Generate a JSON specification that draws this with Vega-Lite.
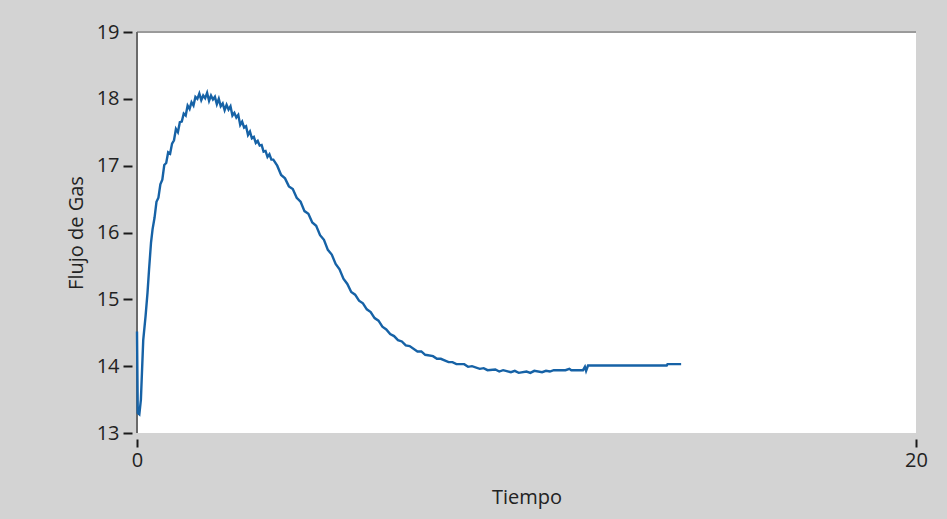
{
  "$schema": "https://vega.github.io/schema/vega-lite/v6.json",
  "width": 779,
  "height": 401,
  "autosize": "none",
  "padding": {"left": 137, "top": 32, "right": 31, "bottom": 86},
  "background": "#d3d3d3",
  "config": {
    "view": {"fill": "#ffffff", "stroke": null},
    "font": "Open Sans",
    "axis": {"labelFont": "Open Sans", "titleFont": "Open Sans", "labelColor": "#222222", "titleColor": "#222222", "tickColor": "#1a1a1a", "grid": false}
  },
  "data": {"values": [
    {"t": 0, "v": 14.52}, {"t": 0.02, "v": 13.3}, {"t": 0.06, "v": 13.28}, {"t": 0.1, "v": 13.5},
    {"t": 0.16, "v": 14.39}, {"t": 0.22, "v": 14.75}, {"t": 0.27, "v": 15.1}, {"t": 0.31, "v": 15.45},
    {"t": 0.36, "v": 15.85}, {"t": 0.4, "v": 16.05}, {"t": 0.45, "v": 16.22},
    {"t": 0.5, "v": 16.46}, {"t": 0.55, "v": 16.52}, {"t": 0.6, "v": 16.72}, {"t": 0.65, "v": 16.79},
    {"t": 0.7, "v": 17.01}, {"t": 0.75, "v": 17.04}, {"t": 0.8, "v": 17.2}, {"t": 0.85, "v": 17.18},
    {"t": 0.9, "v": 17.33}, {"t": 0.95, "v": 17.38}, {"t": 1.0, "v": 17.55}, {"t": 1.05, "v": 17.5},
    {"t": 1.1, "v": 17.65}, {"t": 1.15, "v": 17.66}, {"t": 1.2, "v": 17.78}, {"t": 1.25, "v": 17.75},
    {"t": 1.3, "v": 17.9}, {"t": 1.35, "v": 17.85}, {"t": 1.4, "v": 17.95}, {"t": 1.45, "v": 17.9},
    {"t": 1.5, "v": 18.03}, {"t": 1.55, "v": 18.0}, {"t": 1.6, "v": 18.08}, {"t": 1.65, "v": 17.98},
    {"t": 1.7, "v": 18.05}, {"t": 1.75, "v": 18.01}, {"t": 1.8, "v": 18.09}, {"t": 1.85, "v": 17.97},
    {"t": 1.9, "v": 18.05}, {"t": 1.95, "v": 17.99}, {"t": 2.0, "v": 18.03}, {"t": 2.05, "v": 17.92},
    {"t": 2.1, "v": 18.0}, {"t": 2.15, "v": 17.89}, {"t": 2.2, "v": 17.93}, {"t": 2.25, "v": 17.83},
    {"t": 2.3, "v": 17.91}, {"t": 2.35, "v": 17.84}, {"t": 2.4, "v": 17.89}, {"t": 2.45, "v": 17.75},
    {"t": 2.5, "v": 17.79}, {"t": 2.55, "v": 17.72}, {"t": 2.6, "v": 17.76}, {"t": 2.65, "v": 17.61},
    {"t": 2.7, "v": 17.66}, {"t": 2.75, "v": 17.57}, {"t": 2.8, "v": 17.59}, {"t": 2.85, "v": 17.46},
    {"t": 2.9, "v": 17.51}, {"t": 2.95, "v": 17.41}, {"t": 3.0, "v": 17.43}, {"t": 3.05, "v": 17.34},
    {"t": 3.1, "v": 17.37}, {"t": 3.15, "v": 17.3}, {"t": 3.2, "v": 17.31}, {"t": 3.25, "v": 17.21},
    {"t": 3.3, "v": 17.22}, {"t": 3.35, "v": 17.13}, {"t": 3.4, "v": 17.17}, {"t": 3.45, "v": 17.09},
    {"t": 3.5, "v": 17.09}, {"t": 3.6, "v": 17.0}, {"t": 3.7, "v": 16.86}, {"t": 3.8, "v": 16.81},
    {"t": 3.9, "v": 16.69}, {"t": 4.0, "v": 16.65}, {"t": 4.1, "v": 16.52}, {"t": 4.2, "v": 16.46},
    {"t": 4.3, "v": 16.32}, {"t": 4.4, "v": 16.28}, {"t": 4.5, "v": 16.15}, {"t": 4.6, "v": 16.1},
    {"t": 4.7, "v": 15.96}, {"t": 4.8, "v": 15.89}, {"t": 4.9, "v": 15.74}, {"t": 5.0, "v": 15.67},
    {"t": 5.1, "v": 15.53}, {"t": 5.2, "v": 15.45}, {"t": 5.3, "v": 15.31}, {"t": 5.4, "v": 15.23},
    {"t": 5.5, "v": 15.11}, {"t": 5.6, "v": 15.07}, {"t": 5.7, "v": 14.98}, {"t": 5.8, "v": 14.94},
    {"t": 5.9, "v": 14.85}, {"t": 6.0, "v": 14.81}, {"t": 6.1, "v": 14.72}, {"t": 6.2, "v": 14.68},
    {"t": 6.3, "v": 14.59}, {"t": 6.4, "v": 14.55}, {"t": 6.5, "v": 14.48}, {"t": 6.6, "v": 14.45},
    {"t": 6.7, "v": 14.39}, {"t": 6.8, "v": 14.37}, {"t": 6.9, "v": 14.31}, {"t": 7.0, "v": 14.3},
    {"t": 7.2, "v": 14.22}, {"t": 7.3, "v": 14.22}, {"t": 7.4, "v": 14.17}, {"t": 7.6, "v": 14.15},
    {"t": 7.7, "v": 14.11}, {"t": 7.8, "v": 14.11}, {"t": 8.0, "v": 14.06}, {"t": 8.1, "v": 14.06},
    {"t": 8.2, "v": 14.03}, {"t": 8.4, "v": 14.03}, {"t": 8.5, "v": 13.99}, {"t": 8.6, "v": 14.0},
    {"t": 8.8, "v": 13.96}, {"t": 8.9, "v": 13.97}, {"t": 9.0, "v": 13.94}, {"t": 9.2, "v": 13.95},
    {"t": 9.3, "v": 13.92}, {"t": 9.4, "v": 13.94}, {"t": 9.6, "v": 13.91}, {"t": 9.7, "v": 13.93},
    {"t": 9.8, "v": 13.9}, {"t": 10.0, "v": 13.92}, {"t": 10.1, "v": 13.9}, {"t": 10.2, "v": 13.93},
    {"t": 10.4, "v": 13.91}, {"t": 10.5, "v": 13.93}, {"t": 10.6, "v": 13.92}, {"t": 10.7, "v": 13.94},
    {"t": 10.8, "v": 13.94}, {"t": 11.0, "v": 13.94}, {"t": 11.1, "v": 13.96}, {"t": 11.15, "v": 13.94},
    {"t": 11.45, "v": 13.94}, {"t": 11.5, "v": 13.99}, {"t": 11.53, "v": 13.93}, {"t": 11.58, "v": 14.01},
    {"t": 13.6, "v": 14.01}, {"t": 13.62, "v": 14.03}, {"t": 13.97, "v": 14.03}
  ]},
  "layer": [
    {
      "mark": {"type": "rule", "color": "#9a9a9a", "strokeWidth": 1},
      "encoding": {"y": {"datum": 19}}
    },
    {
      "mark": {"type": "rule", "color": "#6a6a6a", "strokeWidth": 2},
      "encoding": {"x": {"datum": 0}}
    },
    {
      "mark": {"type": "line", "color": "#1662a6", "strokeWidth": 2.4, "interpolate": "linear"},
      "encoding": {
        "x": {"field": "t", "type": "quantitative", "scale": {"domain": [0, 20], "nice": false},
          "axis": {"title": "Tiempo", "values": [0, 20], "format": "d", "domain": false, "offset": 6, "tickSize": 8, "tickWidth": 2,
            "labelFontSize": 20, "titleFontSize": 20, "titleFontWeight": "normal", "labelPadding": 3, "titlePadding": 17, "labelFlush": false}},
        "y": {"field": "v", "type": "quantitative", "scale": {"domain": [13, 19], "nice": false, "zero": false},
          "axis": {"title": "Flujo de Gas", "values": [13, 14, 15, 16, 17, 18, 19], "format": "d", "domain": false, "offset": 5, "tickSize": 9, "tickWidth": 2,
            "labelFontSize": 20, "titleFontSize": 20, "titleFontWeight": "normal", "labelPadding": 4, "titlePadding": 10}}
      }
    }
  ]
}
